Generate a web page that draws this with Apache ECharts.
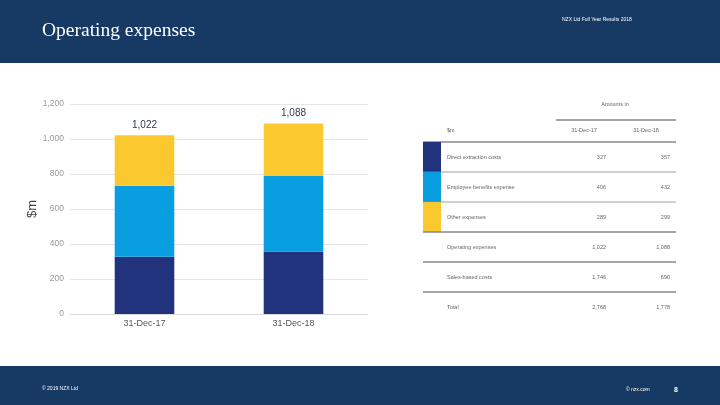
<!DOCTYPE html>
<html>
<head>
<meta charset="utf-8">
<script src="https://cdn.jsdelivr.net/npm/echarts@6/dist/echarts.min.js"></script>
<style>
html,body{margin:0;padding:0;background:#fff;}
#c{width:720px;height:405px;}
</style>
</head>
<body>
<div id="c"></div>
<script>
const categories = ['31-Dec-17', '31-Dec-18'];
const seriesNames = ['Direct extraction costs', 'Employee benefits expense', 'Other expenses'];
const directCosts = [327, 357];
const employeeCosts = [406, 432];
const otherCosts = [289, 299];
const totals = [1022, 1088];
const yTicks = [0, 200, 400, 600, 800, 1000, 1200];
const tableRows = ['Direct extraction costs', 'Employee benefits expense', 'Other expenses', 'Operating expenses', 'Sales-based costs', 'Total'];
const tableCol17 = ['327', '406', '289', '1,022', '1,746', '2,768'];
const tableCol18 = ['357', '432', '299', '1,088', '690', '1,778'];
const colors = ['#22337e', '#089ee0', '#fcc82f'];

const chart = echarts.init(document.getElementById('c'));
const fmt = v => v.toLocaleString('en-US');
const smallFont = '5.5px "Liberation Sans", sans-serif';

const graphics = [
  {type:'rect', shape:{x:0,y:0,width:720,height:63}, style:{fill:'#173a64'}, z:-1},
  {type:'rect', shape:{x:0,y:366,width:720,height:39}, style:{fill:'#173a64'}, z:-1},
  {type:'text', left:42, top:21, style:{text:'Operating expenses', fill:'#fff', font:'19.5px "Liberation Serif", serif'}},
  {type:'text', left:562, top:17, style:{text:'NZX Ltd Full Year Results 2018', fill:'#fff', font:'5px "Liberation Sans", sans-serif'}},
  {type:'text', left:42, top:386, style:{text:'© 2019 NZX Ltd', fill:'#fff', font:'5px "Liberation Sans", sans-serif'}},
  {type:'text', left:626, top:387, style:{text:'© nzx.com', fill:'#fff', font:'5px "Liberation Sans", sans-serif'}},
  {type:'text', left:674, top:387, style:{text:'8', fill:'#fff', font:'bold 7px "Liberation Sans", sans-serif'}},
  {type:'text', x:615, y:104, style:{text:'Amounts in', fill:'#666', font:smallFont, align:'center', verticalAlign:'middle'}},
  {type:'line', shape:{x1:556,y1:120,x2:676,y2:120}, style:{stroke:'#888', lineWidth:1.5}},
  {type:'text', x:447, y:130, style:{text:'$m', fill:'#666', font:smallFont, verticalAlign:'middle'}},
  {type:'text', x:584, y:130, style:{text:categories[0], fill:'#666', font:smallFont, align:'center', verticalAlign:'middle'}},
  {type:'text', x:646, y:130, style:{text:categories[1], fill:'#666', font:smallFont, align:'center', verticalAlign:'middle'}},
  {type:'line', shape:{x1:423,y1:142,x2:676,y2:142}, style:{stroke:'#888', lineWidth:1.5}}
];
const rowH = 30;
const thick = [false, false, true, true, true, false];
tableRows.forEach((name, i) => {
  const top = 142 + i * rowH;
  const cy = top + 15;
  if (i < 3) {
    graphics.push({type:'rect', shape:{x:423,y:top,width:18,height:rowH}, style:{fill:colors[i]}});
  }
  graphics.push({type:'text', x:447, y:cy, style:{text:name, fill:'#666', font:smallFont, verticalAlign:'middle'}});
  graphics.push({type:'text', x:606, y:cy, style:{text:tableCol17[i], fill:'#666', font:smallFont, align:'right', verticalAlign:'middle'}});
  graphics.push({type:'text', x:670, y:cy, style:{text:tableCol18[i], fill:'#666', font:smallFont, align:'right', verticalAlign:'middle'}});
  if (i < 5) {
    graphics.push({type:'line', shape:{x1:423,y1:top+rowH,x2:676,y2:top+rowH}, style:{stroke:'#888', lineWidth:thick[i] ? 1.5 : 0.8}});
  }
});

const values = [directCosts, employeeCosts, otherCosts];
chart.setOption({
  animation:false,
  grid:{left:70, right:352, top:104, bottom:91},
  graphic:graphics,
  xAxis:{
    type:'category', data:categories,
    axisLine:{show:true, lineStyle:{color:'#d9d9d9'}},
    axisTick:{show:false},
    axisLabel:{color:'#555', fontSize:9, fontFamily:'Liberation Sans', margin:5}
  },
  yAxis:{
    type:'value', min:0, max:1200, interval:200,
    name:'$m', nameLocation:'middle', nameGap:31, nameRotate:90,
    nameTextStyle:{color:'#444', fontSize:13, fontFamily:'Liberation Sans'},
    axisLine:{show:false}, axisTick:{show:false},
    axisLabel:{color:'#999', fontSize:8.5, fontFamily:'Liberation Sans', margin:6, formatter:v => fmt(v)},
    splitLine:{lineStyle:{color:'#e6e6e6'}}
  },
  series: seriesNames.map((name, i) => ({
    name, type:'bar', stack:'total', data:values[i], barWidth:'40%',
    itemStyle:{color:colors[i]},
    label: i === 2 ? {show:true, position:'top', distance:5, color:'#2b3a55', fontSize:10, fontFamily:'Liberation Sans',
      formatter:p => fmt(totals[p.dataIndex])} : {show:false}
  }))
});
</script>
</body>
</html>
